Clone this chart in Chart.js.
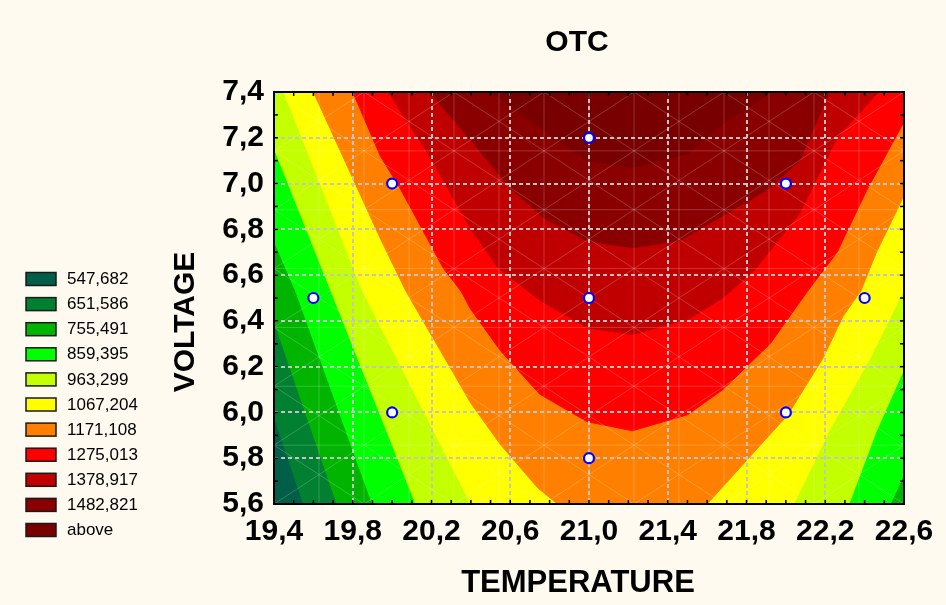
<!DOCTYPE html>
<html>
<head>
<meta charset="utf-8">
<title>OTC</title>
<script src="https://cdn.jsdelivr.net/npm/chart.js@4.4.1/dist/chart.umd.min.js"></script>
<style>
  html, body { margin: 0; padding: 0; background: #fffaf0; }
  #wrap { width: 946px; height: 605px; }
</style>
</head>
<body>
<div id="wrap"><canvas id="otc" width="946" height="605"></canvas></div>
<script>
// OTC response surface over TEMPERATURE x VOLTAGE: filled contour classes + design runs

const tempTicks = [19.4, 19.8, 20.2, 20.6, 21.0, 21.4, 21.8, 22.2, 22.6];
const voltTicks = [5.6, 5.8, 6.0, 6.2, 6.4, 6.6, 6.8, 7.0, 7.2, 7.4];

// class limits shown in the legend (last class is "above")
const levels = [547.682, 651.586, 755.491, 859.395, 963.299, 1067.204, 1171.108, 1275.013, 1378.917, 1482.821];

// design runs
const runTemp = [19.6, 20.0, 20.0, 21.0, 21.0, 21.0, 22.0, 22.0, 22.4];
const runVolt = [6.5, 7.0, 6.0, 7.2, 6.5, 5.8, 7.0, 6.0, 6.5];

// iso-lines as [temperature, voltage]; each one outlines where OTC is above its level
const iso547 = [[18.8, 7.5], [19.4, 5.98], [19.55, 5.6], [19.63, 5.4], [23.5, 5.4], [23.5, 7.5]];
const iso651 = [[18.96, 7.5], [19.4, 6.40], [19.72, 5.6], [19.76, 5.5], [23.5, 5.5], [23.5, 7.5]];
const iso755 = [[19.03, 7.5], [19.4, 6.75], [19.51, 6.53], [19.9, 5.6], [19.94, 5.5], [22.5, 5.5],
  [22.53, 5.6], [22.6, 5.73], [22.9, 6.3], [23.5, 7.5]];
const iso859 = [[19.24, 7.5], [19.4, 7.155], [19.69, 6.53], [20.12, 5.6], [20.14, 5.5], [22.27, 5.5],
  [22.32, 5.6], [22.46, 5.92], [22.59, 6.17], [23.3, 7.5]];
const iso963 = [[19.4, 7.5], [19.45, 7.4], [19.85, 6.53], [20.4, 5.6], [20.45, 5.5], [21.98, 5.5],
  [22.04, 5.6], [22.22, 5.92], [22.43, 6.24], [22.59, 6.52], [23.17, 7.5]];
const iso1067 = [[19.56, 7.5], [19.6, 7.4], [19.94, 6.76], [20.07, 6.53], [20.4, 6.04], [20.55, 5.86],
  [20.74, 5.67], [20.84, 5.6], [20.98, 5.5], [21.49, 5.5], [21.6, 5.6], [21.8, 5.79], [22.01, 5.99],
  [22.19, 6.24], [22.29, 6.42], [22.38, 6.53], [22.46, 6.7], [22.59, 6.93], [22.92, 7.5]];
const iso1171 = [[19.75, 7.5], [19.8, 7.4], [19.94, 7.12], [20.04, 6.98], [20.26, 6.63], [20.35, 6.53],
  [20.4, 6.45], [20.55, 6.27], [20.75, 6.08], [20.99, 5.96], [21.22, 5.92], [21.5, 5.99], [21.68, 6.1],
  [21.92, 6.3], [22.11, 6.53], [22.26, 6.7], [22.41, 6.97], [22.6, 7.27], [22.75, 7.5]];
const iso1275 = [[19.9, 7.5], [19.98, 7.4], [20.19, 7.12], [20.4, 6.8], [20.54, 6.63], [20.75, 6.49],
  [20.99, 6.37], [21.22, 6.34], [21.51, 6.41], [21.68, 6.5], [21.85, 6.63], [22.07, 6.87], [22.26, 7.2],
  [22.47, 7.4], [22.57, 7.5]];
const iso1378 = [[20.1, 7.5], [20.19, 7.4], [20.4, 7.19], [20.6, 6.98], [20.77, 6.85], [20.99, 6.75],
  [21.22, 6.72], [21.46, 6.75], [21.58, 6.81], [21.9, 6.97], [22.07, 7.1], [22.22, 7.4], [22.27, 7.5]];
const iso1482 = [[20.33, 7.5], [20.5, 7.4], [20.99, 7.1], [21.22, 7.07], [21.5, 7.13], [21.68, 7.26],
  [21.93, 7.4], [22.11, 7.5]];

const isoLines = [iso547, iso651, iso755, iso859, iso963, iso1067, iso1171, iso1275, iso1378, iso1482];

// class colours, lowest class first
const bandColors = ['#005f46', '#008030', '#00b400', '#00ff00', '#c4ff00', '#ffff00',
  '#ff8000', '#ff0000', '#c00000', '#8a0000', '#780000'];

const FONT = '"Liberation Sans", Arial, Helvetica, sans-serif';
const fmt1 = v => v.toFixed(1).replace('.', ',');
const fmt3 = v => v.toFixed(3).replace('.', ',');

// one closed polygon per level, higher levels painted on top
const bandSets = isoLines.map((pts, i) => ({
  type: 'line',
  data: pts.concat([pts[0]]).map(p => ({ x: p[0], y: p[1] })),
  backgroundColor: bandColors[i + 1],
  borderColor: bandColors[i + 1],
  borderWidth: 1,
  pointRadius: 0,
  pointHoverRadius: 0,
  tension: 0,
  fill: 'shape',
  order: 100 - i
}));

const runSet = {
  type: 'scatter',
  data: runTemp.map((t, i) => ({ x: t, y: runVolt[i] })),
  pointRadius: 5,
  pointHoverRadius: 5,
  pointBackgroundColor: '#ffffff',
  pointBorderColor: '#0000ff',
  pointBorderWidth: 2.2,
  order: 0
};

function strokeSeg(ctx, x0, y0, x1, y1) {
  ctx.beginPath();
  ctx.moveTo(x0, y0);
  ctx.lineTo(x1, y1);
  ctx.stroke();
}

// faint interpolation mesh and dashed grid, drawn just before the run markers
function drawMeshAndGrid(chart) {
  const { ctx, chartArea: a, scales: { x, y } } = chart;
  const cols = 14, rows = 7;
  const dx = (x.max - x.min) / cols, dy = (y.max - y.min) / rows;
  ctx.save();
  ctx.beginPath();
  ctx.rect(a.left, a.top, a.right - a.left, a.bottom - a.top);
  ctx.clip();

  ctx.strokeStyle = 'rgba(255,255,255,0.2)';
  ctx.lineWidth = 1;
  for (let c = 1; c < cols; c++) {
    const px = x.getPixelForValue(x.min + c * dx);
    strokeSeg(ctx, px, a.top, px, a.bottom);
  }
  for (let r = 1; r < rows; r++) {
    const py = y.getPixelForValue(y.min + r * dy);
    strokeSeg(ctx, a.left, py, a.right, py);
  }
  for (let c = -cols * 2; c <= cols * 2; c += 2) {
    const xa = x.getPixelForValue(x.min + c * dx);
    const xb = x.getPixelForValue(x.min + (c + cols * 2) * dx);
    const xc = x.getPixelForValue(x.min + (c - cols * 2) * dx);
    const yb = y.getPixelForValue(y.min);
    const yt = y.getPixelForValue(y.min + rows * 2 * dy);
    strokeSeg(ctx, xa, yb, xb, yt);
    strokeSeg(ctx, xa, yb, xc, yt);
  }

  ctx.strokeStyle = '#c4c4c4';
  ctx.lineWidth = 2;
  ctx.setLineDash([4, 3]);
  tempTicks.slice(1, -1).forEach(v => {
    const px = Math.round(x.getPixelForValue(v));
    strokeSeg(ctx, px, a.top, px, a.bottom);
  });
  voltTicks.slice(1, -1).forEach(v => {
    const py = Math.round(y.getPixelForValue(v));
    strokeSeg(ctx, a.left, py, a.right, py);
  });
  ctx.restore();
}

// frame with inward minor ticks on all four sides
function drawFrame(chart) {
  const { ctx, chartArea: a, scales: { x, y } } = chart;
  const len = 4;
  ctx.save();
  ctx.strokeStyle = '#000000';
  ctx.lineWidth = 1.5;
  for (let v = x.min; v <= x.max + 1e-9; v += 0.1) {
    const px = x.getPixelForValue(v);
    strokeSeg(ctx, px, a.bottom, px, a.bottom - len);
    strokeSeg(ctx, px, a.top, px, a.top + len);
  }
  for (let v = y.min; v <= y.max + 1e-9; v += 0.1) {
    const py = y.getPixelForValue(v);
    strokeSeg(ctx, a.left, py, a.left + len, py);
    strokeSeg(ctx, a.right, py, a.right - len, py);
  }
  ctx.lineWidth = 2;
  ctx.strokeRect(a.left, a.top, a.right - a.left, a.bottom - a.top);
  ctx.restore();
}

function drawTexts(chart) {
  const { ctx } = chart;
  ctx.save();
  ctx.fillStyle = '#000000';
  ctx.textAlign = 'center';
  ctx.textBaseline = 'middle';
  ctx.font = 'bold 30px ' + FONT;
  ctx.fillText('OTC', 577, 43);
  ctx.font = 'bold 31px ' + FONT;
  ctx.fillText('TEMPERATURE', 578, 583);
  ctx.save();
  ctx.translate(186, 322);
  ctx.rotate(-Math.PI / 2);
  ctx.font = 'bold 30px ' + FONT;
  ctx.fillText('VOLTAGE', 0, 0);
  ctx.restore();

  // legend: one swatch per class
  const labels = levels.map(fmt3).concat(['above']);
  ctx.textAlign = 'left';
  ctx.font = '17px ' + FONT;
  labels.forEach((txt, i) => {
    const top = 272.5 + i * 25.1;
    ctx.fillStyle = bandColors[i];
    ctx.fillRect(26, top, 30, 13);
    ctx.strokeStyle = '#1a1a1a';
    ctx.lineWidth = 1.5;
    ctx.strokeRect(26, top, 30, 13);
    ctx.fillStyle = '#000000';
    ctx.fillText(txt, 67, top + 7);
  });
  ctx.restore();
}

const surfacePlugin = {
  id: 'surface',
  beforeDraw(chart) {
    const { ctx, width, height } = chart;
    ctx.save();
    ctx.fillStyle = '#fffaf0';
    ctx.fillRect(0, 0, width, height);
    ctx.restore();
  },
  beforeDatasetsDraw(chart) {
    const { ctx, chartArea: a } = chart;
    ctx.save();
    ctx.fillStyle = bandColors[0];
    ctx.fillRect(a.left, a.top, a.right - a.left, a.bottom - a.top);
    ctx.restore();
  },
  beforeDatasetDraw(chart, args) {
    if (args.meta.type === 'scatter') drawMeshAndGrid(chart);
  },
  afterDatasetsDraw(chart) {
    drawFrame(chart);
  },
  afterDraw(chart) {
    drawTexts(chart);
  }
};

const tickFont = { family: FONT, size: 30, weight: 'bold' };

new Chart(document.getElementById('otc'), {
  type: 'scatter',
  data: { datasets: [runSet].concat(bandSets) },
  options: {
    responsive: false,
    animation: false,
    events: [],
    layout: { padding: { left: 0, top: 92, right: 42, bottom: 0 } },
    plugins: {
      legend: { display: false },
      title: { display: false },
      tooltip: { enabled: false }
    },
    scales: {
      x: {
        type: 'linear',
        min: 19.4,
        max: 22.6,
        afterBuildTicks: s => { s.ticks = tempTicks.map(v => ({ value: v })); },
        afterFit: s => { s.height = 101; },
        grid: { display: false, drawTicks: false },
        border: { display: false },
        ticks: { autoSkip: false, maxRotation: 0, padding: 10, color: '#000000', font: tickFont, callback: v => fmt1(v) }
      },
      y: {
        type: 'linear',
        min: 5.6,
        max: 7.4,
        afterBuildTicks: s => { s.ticks = voltTicks.map(v => ({ value: v })); },
        afterFit: s => { s.width = 274; },
        grid: { display: false, drawTicks: false },
        border: { display: false },
        ticks: { autoSkip: false, padding: 10, color: '#000000', font: tickFont, callback: v => fmt1(v) }
      }
    }
  },
  plugins: [surfacePlugin]
});
</script>
</body>
</html>
